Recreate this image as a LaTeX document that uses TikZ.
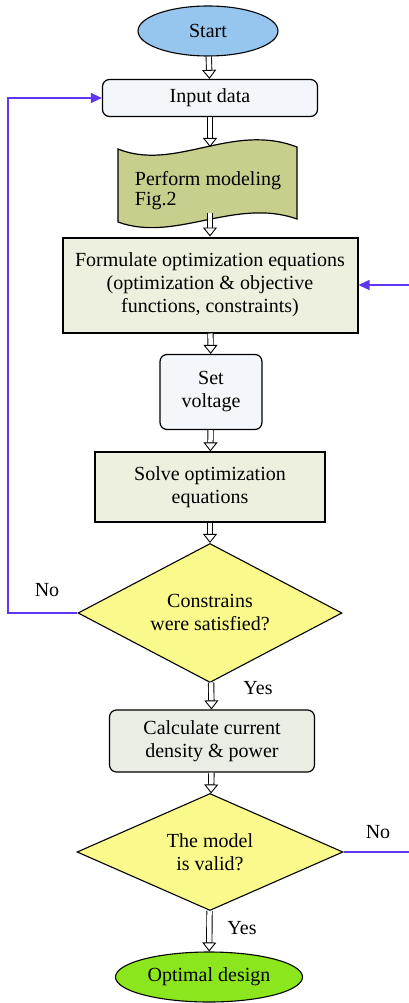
\documentclass[tikz,border=0pt]{standalone}
\usepackage{fontspec}
\setmainfont{Liberation Serif}
\usepackage{tikz}
\usetikzlibrary{arrows.meta,shapes.geometric}
\usepackage{xcolor}

\definecolor{startblue}{RGB}{150,198,238}
\definecolor{paleblue}{RGB}{243,246,250}
\definecolor{paleolive}{RGB}{237,240,222}
\definecolor{olive}{RGB}{200,206,140}
\definecolor{paleyellow}{RGB}{250,250,140}
\definecolor{palegrey}{RGB}{234,237,228}
\definecolor{limegreen}{RGB}{140,230,30}
\definecolor{loopblue}{RGB}{95,55,240}

\tikzset{
  box/.style={rectangle, draw, line width=1.2pt, inner sep=0pt, align=center},
  roundbox/.style={box, rounded corners=7pt},
  decision/.style={diamond, draw, line width=1.1pt, fill=paleyellow, inner sep=0pt, aspect=2, align=center},
  terminal/.style={ellipse, draw, line width=1.1pt, inner sep=0pt},
  dbl/.style={double, double distance=4.5pt, line width=0.9pt, -{Triangle[open, length=9pt, width=14pt]}},
  loopline/.style={draw=loopblue, line width=1.4pt},
  label/.style={inner sep=0pt}
}

\begin{document}
\begin{tikzpicture}[x=1pt, y=-1pt, font=\fontsize{20}{23}\selectfont]
          \useasboundingbox (0,0) rectangle (409,1003);

          % Start and end
          \node[terminal, fill=startblue, minimum width=140, minimum height=50] (start) at (208,31) {Start};
          \node[terminal, fill=limegreen, minimum width=187, minimum height=50] (design) at (209,977) {Optimal design};

          % Boxes
          \node[roundbox, fill=paleblue, minimum width=215, minimum height=37] (input) at (210,98) {Input data};
          \node[box, fill=paleolive, line width=2pt, minimum width=295, minimum height=95] (formulate) at (210,285)
                {Formulate optimization equations\\(optimization \& objective\\functions, constraints)};
          \node[roundbox, fill=paleblue, minimum width=102, minimum height=75] (voltage) at (211,392) {Set\\voltage};
          \node[box, fill=paleolive, line width=1.2pt, minimum width=230, minimum height=70] (solve) at (210,487)
                {Solve optimization\\equations};
          \node[roundbox, fill=palegrey, minimum width=205, minimum height=62] (calc) at (212,741)
                {Calculate current\\density \& power};

          % Tape for the model
          \draw[line width=1.2pt, fill=olive] (118,149) .. controls (175,172) and (232,122) .. (297,147)
                -- (297,219) .. controls (235,197) and (175,243) .. (118,222) -- cycle;
          \node[label, align=left, font=\fontsize{20}{20}\selectfont] (model) at (208,191) {Perform modeling\\ Fig.2};
          \coordinate (modeltop) at (210,147);
          \coordinate (modelbot) at (210,213);

          % Decisions
          \node[decision, minimum width=264, minimum height=139] (check) at (210,613) {Constrains\\were satisfied?};
          \node[decision, minimum width=266, minimum height=117] (valid) at (210,852) {The model\\is valid?};

          % Labels
          \node[label] (no1) at (47,590) {No};
          \node[label] (yes1) at (258,688) {Yes};
          \node[label] (no2) at (378,832) {No};
          \node[label] (yes2) at (242,928) {Yes};

          % Main flow
          \draw[dbl] (start) -- (input);
          \draw[dbl] (input) -- (modeltop);
          \draw[dbl] (modelbot) -- (formulate);
          \draw[dbl] (formulate) -- (voltage);
          \draw[dbl] (voltage) -- (solve);
          \draw[dbl] (solve) -- (check);
          \draw[dbl] (check) -- (calc);
          \draw[dbl] (calc) -- (valid);
          \draw[dbl] (valid) -- (design);

          % Loops
          \coordinate (leftturn) at (8,613);
          \coordinate (rightin) at (409,285);
          \coordinate (rightout) at (409,852);
          \draw[loopline, -{Triangle[length=11pt, width=10pt]}] (check.west) -- (leftturn) |- (input.west);
          \draw[loopline, -{Triangle[length=11pt, width=10pt]}] (rightin) -- (formulate.east);
          \draw[loopline] (valid.east) -- (rightout);

        \end{tikzpicture}
\end{document}
